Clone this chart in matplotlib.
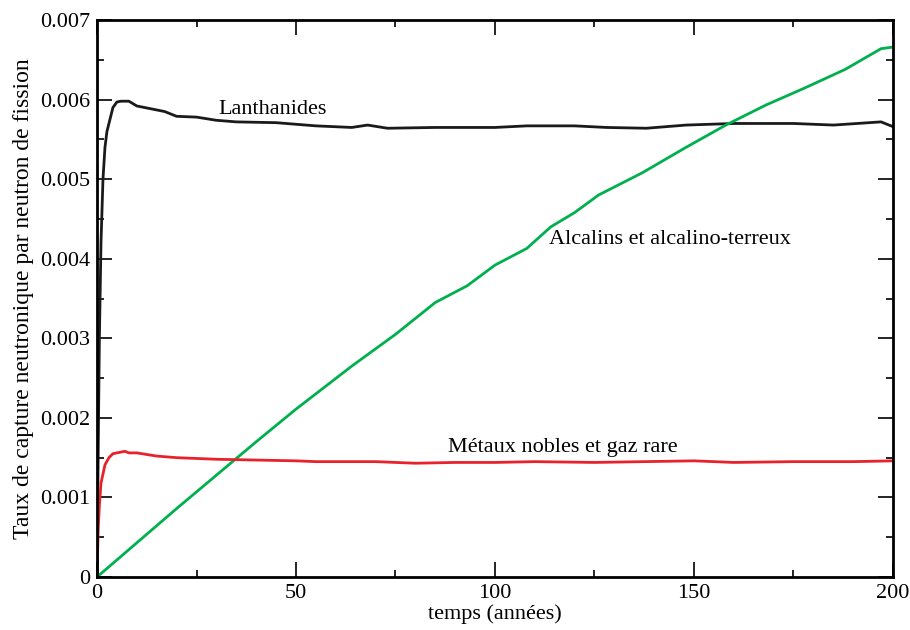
import matplotlib as mpl
import matplotlib.pyplot as plt
from matplotlib.ticker import MultipleLocator, FuncFormatter

# Lanthanides
t_lan = [0, 0.3, 0.6, 1, 1.5, 2, 2.5, 3, 4, 5, 6, 8, 10, 12, 17, 20, 25, 30, 35, 45,
         55, 64, 68, 73, 85, 100, 108, 120, 128, 138, 148, 160, 175, 185, 197, 200]
v_lan = [0, 0.0016, 0.003, 0.0042, 0.005, 0.0054, 0.0056, 0.0057, 0.0059, 0.00597,
         0.00598, 0.00598, 0.00592, 0.0059, 0.00585, 0.00579, 0.00578, 0.00574,
         0.00572, 0.00571, 0.00567, 0.00565, 0.00568, 0.00564, 0.00565, 0.00565,
         0.00567, 0.00567, 0.00565, 0.00564, 0.00568, 0.0057, 0.0057, 0.00568,
         0.00572, 0.00566]

# Alcalins et alcalino-terreux
t_alc = [0, 10, 20, 30, 40, 50, 64, 75, 85, 93, 100, 108, 114, 120, 126, 137,
         148, 158, 168, 178, 188, 197, 200]
v_alc = [0, 0.00043, 0.00086, 0.00128, 0.0017, 0.00211, 0.00265, 0.00305,
         0.00345, 0.00366, 0.00392, 0.00413, 0.0044, 0.00458, 0.0048, 0.00508,
         0.0054, 0.00568, 0.00593, 0.00615, 0.00638, 0.00664, 0.00666]

# Métaux nobles et gaz rare
t_met = [0, 0.3, 0.6, 1, 2, 3, 4, 5, 7, 8, 10, 15, 20, 30, 40, 50, 55, 70, 80,
         90, 100, 110, 125, 150, 160, 175, 190, 200]
v_met = [0, 0.0006, 0.0009, 0.00118, 0.00141, 0.0015, 0.00155, 0.00156,
         0.00158, 0.00156, 0.00156, 0.00152, 0.0015, 0.00148, 0.00147, 0.00146,
         0.00145, 0.00145, 0.00143, 0.00144, 0.00144, 0.00145, 0.00144, 0.00146,
         0.00144, 0.00145, 0.00145, 0.00146]

mpl.rcParams.update({'font.family': 'Liberation Serif', 'font.size': 16})

dpi = 100
fig = plt.figure(dpi=dpi, figsize=(910 / dpi, 630 / dpi))
ax = fig.add_axes([0.1066, 0.0841, 0.8747, 0.8841])

ax.plot(t_lan, v_lan, color='#1a1a1a', linewidth=2)
ax.plot(t_alc, v_alc, color='#00b04f', linewidth=2)
ax.plot(t_met, v_met, color='#e8222c', linewidth=2)

ax.text(44, 0.00587, 'Lanthanides', ha='center', va='center')
ax.text(144, 0.00424, 'Alcalins et alcalino-terreux', ha='center', va='center')
ax.text(117, 0.00163, 'Métaux nobles et gaz rare', ha='center', va='center')

ax.set_xlim(0, 200)
ax.set_ylim(0, 0.007)
ax.xaxis.set_major_locator(MultipleLocator(50))
ax.xaxis.set_minor_locator(MultipleLocator(25))
ax.yaxis.set_major_locator(MultipleLocator(0.001))
ax.yaxis.set_minor_locator(MultipleLocator(0.0005))
ax.yaxis.set_major_formatter(FuncFormatter(lambda v, p: '0' if abs(v) < 1e-9 else '%.3f' % v))
ax.tick_params(which='both', direction='in', top=True, right=True, width=1.2)
ax.tick_params(which='major', length=11, labelsize=16, pad=5)
ax.tick_params(which='minor', length=5)
for s in ax.spines.values():
    s.set_linewidth(2)

ax.set_xlabel('temps (années)', labelpad=1)
ax.set_ylabel('Taux de capture neutronique par neutron de fission', fontsize=17, labelpad=4)

fig.savefig('out.png', dpi=dpi)
